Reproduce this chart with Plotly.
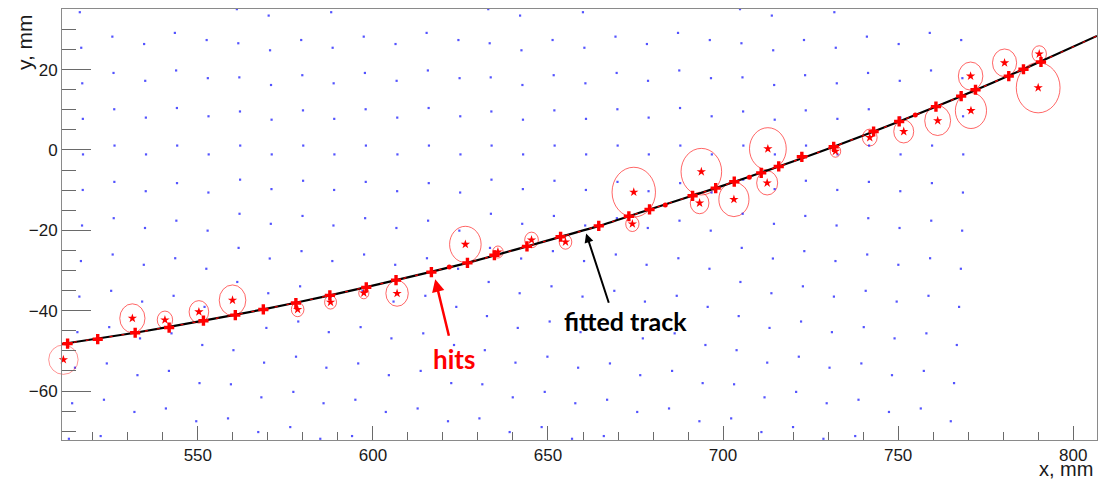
import plotly.graph_objects as go

# ---------------- data (all in mm) ----------------
X_RANGE = [511.2, 806.8]
Y_RANGE = [-72.2, 35.1]

# fitted track (points along the curve)
track_x = [511.2, 532.1, 551.6, 568.7, 587.7, 606.6, 627.0, 644.0, 664.5, 679.0,
           697.9, 715.9, 731.6, 750.3, 768.0, 785.8, 806.8]
track_y = [-48.3, -45.5, -42.5, -39.7, -36.2, -32.4, -28.1, -24.0, -18.9, -14.8,
           -9.5, -4.1, 0.8, 7.1, 13.4, 20.1, 28.4]

# hits on the track (red crosses)
hit_x = [512.8, 521.4, 532.1, 541.8, 551.6, 560.7, 568.7, 578.0, 587.7, 598.1,
         606.6, 616.7, 627.0, 634.7, 644.0, 653.6, 664.5, 673.1, 679.0, 691.3,
         697.9, 703.2, 710.9, 715.9, 722.5, 731.6, 743.0, 750.3, 760.8, 768.0,
         772.1, 781.6, 785.8, 790.8]
hit_y = [-48.2, -47.1, -45.5, -44.2, -42.5, -41.1, -39.7, -38.1, -36.2, -34.2,
         -32.4, -30.4, -28.1, -26.2, -24.0, -21.6, -18.9, -16.5, -14.8, -11.4,
         -9.5, -7.9, -5.7, -4.1, -1.7, 0.8, 4.6, 7.1, 10.8, 13.4,
         15.0, 18.4, 20.1, 21.9]

# small points on the track
small_x = [621.8, 683.5, 707.5, 754.9]
small_y = [-29.1, -13.7, -6.8, 8.7]

# measured hit centres (red stars) and drift circles radius
drift_x = [511.6, 531.3, 540.6, 550.3, 559.9, 578.5, 587.9, 597.4, 606.9, 626.4,
           635.7, 645.3, 655.0, 674.1, 674.5, 693.8, 693.3, 703.1, 712.8, 712.6,
           732.1, 741.9, 751.6, 761.3, 770.8, 770.7, 780.4, 790.0, 790.3]
drift_y = [-52.2, -41.9, -42.3, -40.3, -37.4, -39.7, -37.9, -35.6, -35.7, -23.5,
           -25.4, -22.4, -22.9, -18.4, -10.5, -5.4, -13.2, -12.3, 0.3, -8.2,
           -0.3, 3.1, 4.6, 7.3, 9.8, 18.4, 21.7, 15.5, 23.9]
drift_r = [4.2, 3.6, 2.2, 2.8, 3.8, 1.8, 1.7, 1.45, 3.2, 4.5,
           1.5, 1.95, 1.8, 1.9, 6.2, 5.8, 2.67, 4.3, 5.25, 3.0,
           1.5, 2.1, 2.85, 3.7, 4.45, 3.5, 3.45, 6.25, 2.05]

# empty circle outside the frame
ghost_x = [502.3]
ghost_y = [-50.9]
ghost_r = [1.43]

# wire grid: column positions, per-pattern offset and pitch (8-column period)
wire_col_x = [517.2, 526.2, 535.2, 544.1, 553.1, 562.1, 571.1, 580.1, 589.0, 598.0,
              607.0, 616.0, 625.0, 633.9, 642.9, 651.9, 660.9, 669.9, 678.8, 687.8,
              696.8, 705.8, 714.8, 723.7, 732.7, 741.7, 750.7, 759.7, 768.6]
wire_offset = [-1.1, 1.1, -1.1, 1.1, -1.1, 1.1, -1.1, 1.1]
wire_pitch = [8.85, 9.04, 9.16, 9.35, 9.49, 8.49, 8.64, 8.76]
wire_bend = 7.8e-4   # columns bend left away from y = 0

# ---------------- layout constants ----------------
W, H = 1098, 482
ML, MR, MT, MB = 62, 1, 9, 42
PW, PH = W - ML - MR, H - MT - MB
px_per_mm = PW / (X_RANGE[1] - X_RANGE[0])

wx, wy = [], []
for k, x0 in enumerate(wire_col_x):
    p = k % 8
    for n in range(-12, 13):
        y = wire_offset[p] + n * wire_pitch[p]
        if Y_RANGE[0] - 1 <= y <= Y_RANGE[1] + 1:
            wx.append(x0 - wire_bend * y * y)
            wy.append(y)

fig = go.Figure()

fig.add_trace(go.Scatter(
    x=wx, y=wy, mode="markers",
    marker=dict(symbol="square", size=2.2, color="rgba(40,40,255,0.8)", line=dict(width=0)),
    hoverinfo="skip", showlegend=False))

shapes = []
edge_x, edge_y, edge_s = [], [], []
for cx, cy, r in zip(drift_x, drift_y, drift_r):
    if cx - r < X_RANGE[0] or cx + r > X_RANGE[1] or cy + r > Y_RANGE[1] or cy - r < Y_RANGE[0]:
        edge_x.append(cx); edge_y.append(cy); edge_s.append(2 * r * px_per_mm)
    else:
        shapes.append(dict(type="circle", xref="x", yref="y", layer="below",
                           x0=cx - r, x1=cx + r, y0=cy - r, y1=cy + r,
                           line=dict(color="rgba(255,0,0,0.6)", width=1)))
for cx, cy, r in zip(ghost_x, ghost_y, ghost_r):
    edge_x.append(cx); edge_y.append(cy); edge_s.append(2 * r * px_per_mm)

fig.add_trace(go.Scatter(
    x=edge_x, y=edge_y, mode="markers", cliponaxis=False,
    marker=dict(symbol="circle-open", size=edge_s, color="rgba(255,0,0,0.6)",
                line=dict(width=1, color="rgba(255,0,0,0.6)")),
    hoverinfo="skip", showlegend=False))

fig.add_trace(go.Scatter(
    x=track_x, y=track_y, mode="lines", line=dict(color="black", width=2.2, shape="spline", smoothing=0.6),
    hoverinfo="skip", showlegend=False))
fig.add_trace(go.Scatter(
    x=track_x, y=track_y, mode="lines",
    line=dict(color="rgba(255,0,0,0.9)", width=1.2, dash="3px,9px", shape="spline", smoothing=0.6),
    hoverinfo="skip", showlegend=False))

fig.add_trace(go.Scatter(
    x=drift_x, y=drift_y, mode="markers", cliponaxis=False,
    marker=dict(symbol="star", size=7, color="red", line=dict(width=0)),
    hoverinfo="skip", showlegend=False))
fig.add_trace(go.Scatter(
    x=small_x, y=small_y, mode="markers",
    marker=dict(symbol="circle", size=5, color="red", line=dict(width=0)),
    hoverinfo="skip", showlegend=False))
fig.add_trace(go.Scatter(
    x=hit_x, y=hit_y, mode="markers", cliponaxis=False,
    marker=dict(symbol="cross", size=8.5, color="red", line=dict(width=0)),
    hoverinfo="skip", showlegend=False))

tickfont = dict(family="Liberation Sans, Arial, sans-serif", size=17, color="#1a1a1a")
axis_common = dict(showgrid=False, zeroline=False, showline=True, linecolor="#8a8a8a",
                   linewidth=1, mirror=True, ticks="inside", tickcolor="#6a6a6a",
                   tickwidth=1, tickfont=tickfont, automargin=False)

fig.update_layout(
    width=W, height=H,
    margin=dict(l=ML, r=MR, t=MT, b=MB, autoexpand=False),
    paper_bgcolor="white", plot_bgcolor="white",
    shapes=shapes,
    xaxis=dict(range=X_RANGE, tick0=0, dtick=50, ticklen=14,
               minor=dict(dtick=10, ticklen=8, ticks="inside", tickcolor="#6a6a6a"),
               **axis_common),
    yaxis=dict(range=Y_RANGE, tick0=0, dtick=20, ticklen=29,
               minor=dict(dtick=5, ticklen=14, ticks="inside", tickcolor="#6a6a6a"),
               **axis_common),
    annotations=[
        dict(x=617.8, y=-32.2, ax=621.8, ay=-46.6, xref="x", yref="y", axref="x", ayref="y",
             text="", showarrow=True, arrowhead=2, arrowsize=1, arrowwidth=2.5, arrowcolor="red"),
        dict(x=660.9, y=-20.8, ax=667.5, ay=-38.4, xref="x", yref="y", axref="x", ayref="y",
             text="", showarrow=True, arrowhead=2, arrowsize=0.9, arrowwidth=2, arrowcolor="black"),
        dict(x=672.2, y=-42.6, xref="x", yref="y", text="<b>fitted track</b>", showarrow=False,
             xanchor="center", yanchor="middle",
             font=dict(family="Lato, sans-serif", size=25, color="black")),
        dict(x=623.1, y=-52.1, xref="x", yref="y", text="<b>hits</b>", showarrow=False,
             xanchor="center", yanchor="middle",
             font=dict(family="Lato, sans-serif", size=26, color="red")),
        dict(x=(25 - ML) / PW, y=1 - (12 - MT) / PH, xref="paper", yref="paper",
             text="y, mm", textangle=-90, showarrow=False, xanchor="center", yanchor="top",
             font=dict(family="Liberation Sans, Arial, sans-serif", size=21, color="#1a1a1a")),
        dict(x=(1095 - ML) / PW, y=-(482 - (H - MB)) / PH, xref="paper", yref="paper",
             text="x, mm", showarrow=False, xanchor="right", yanchor="bottom",
             font=dict(family="Liberation Sans, Arial, sans-serif", size=20, color="#1a1a1a")),
    ],
)

fig.write_html(
    "out.html",
    config={"displayModeBar": False},
    post_script="document.body.style.margin='0';document.body.style.overflow='hidden';",
)
